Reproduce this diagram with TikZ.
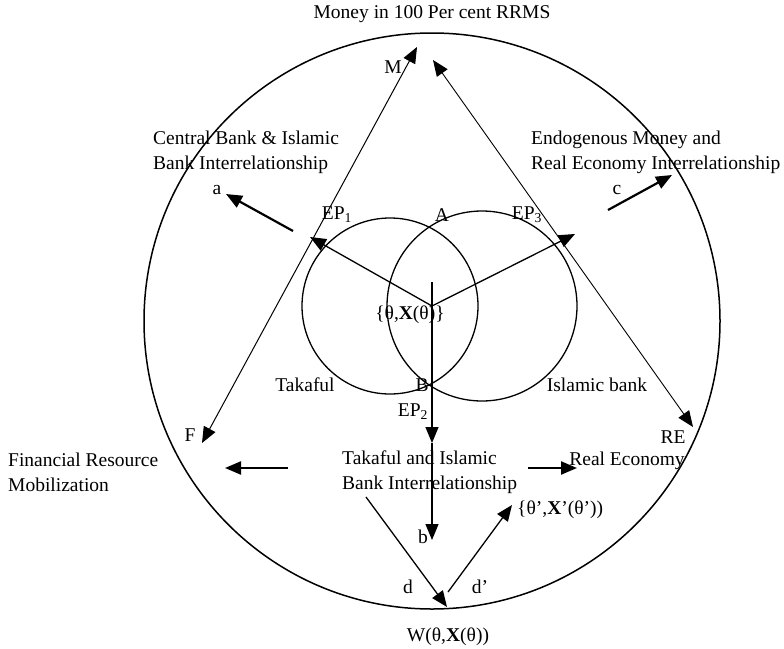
\documentclass[tikz,border=0pt]{standalone}
\usepackage{fontspec}
\setmainfont{Liberation Serif}
\usepackage{tikz}
\usetikzlibrary{arrows.meta}

\tikzset{
  lbl/.style={inner sep=0pt, font=\fontsize{19.5}{25}\selectfont},
  tip/.style={-{Triangle[length=16pt,width=13pt]}, line width=1.3pt},
  bitip/.style={{Triangle[length=16pt,width=13pt]}-{Triangle[length=16pt,width=13pt]}, line width=1pt},
  flow/.style={-{Triangle[length=16pt,width=13pt]}, line width=2.2pt}
}

\begin{document}
\begin{tikzpicture}[x=1pt, y=-1pt]
        \useasboundingbox (0,0) rectangle (784,648);
        \draw[line width=1.5pt] (432,321) circle (288);
        \draw[line width=1.3pt] (390,306) circle (88);
        \draw[line width=1.3pt] (482,306) circle (95);

        \coordinate (O) at (432,306);
        \coordinate (ep1) at (310,237);
        \coordinate (ep3) at (575,234);
        \coordinate (top) at (432,282);
        \coordinate (ep2) at (432,443);
        \coordinate (bb) at (432,540);
        \coordinate (m) at (417,47);
        \coordinate (f) at (202,443);
        \coordinate (m2) at (433,60);
        \coordinate (re) at (693,427);
        \coordinate (a0) at (293,231);
        \coordinate (a1) at (226,194);
        \coordinate (c0) at (608,210);
        \coordinate (c1) at (672,175);
        \coordinate (fr0) at (288,468);
        \coordinate (fr1) at (225,468);
        \coordinate (r0) at (528,468);
        \coordinate (r1) at (577,468);
        \coordinate (d0) at (366,497);
        \coordinate (w) at (447,607);
        \coordinate (d1) at (448,592);
        \coordinate (th) at (512,505);

        \draw[tip] (O) -- (ep1);
        \draw[tip] (O) -- (ep3);
        \draw[tip] (top) -- (ep2);
        \draw[tip] (ep2) -- (bb);
        \draw[bitip] (f) -- (m);
        \draw[bitip, line width=.9pt] (re) -- (m2);
        \draw[flow] (a0) -- (a1);
        \draw[flow] (c0) -- (c1);
        \draw[flow] (fr0) -- (fr1);
        \draw[flow] (r0) -- (r1);
        \draw[tip] (d0) -- (w);
        \draw[tip] (d1) -- (th);

        \node[lbl] (title) at (432,14) {Money in 100 Per cent RRMS};
        \node[lbl] (lm) at (393,67) {M};
        \node[lbl, align=left, anchor=west] (cb) at (153,152) {Central Bank \& Islamic\\Bank Interrelationship};
        \node[lbl] (la) at (217,190) {a};
        \node[lbl] (lep1) at (337,215) {EP\textsubscript{1}};
        \node[lbl] (lA) at (442,215) {A};
        \node[lbl] (lep3) at (527,215) {EP\textsubscript{3}};
        \node[lbl, align=left, anchor=west] (em) at (531,152) {Endogenous Money and\\Real Economy Interrelationship};
        \node[lbl] (lc) at (617,190) {c};
        \node[lbl] (lth) at (410,315) {\{θ,\textbf{X}(θ)\}};
        \node[lbl] (tk) at (305,385) {Takaful};
        \node[lbl] (lB) at (422,385) {B};
        \node[lbl] (ib) at (597,385) {Islamic bank};
        \node[lbl] (lep2) at (413,412) {EP\textsubscript{2}};
        \node[lbl] (lF) at (190,435) {F};
        \node[lbl] (lRE) at (673,437) {RE};
        \node[lbl, align=left, anchor=west] (frm) at (8,472) {Financial Resource\\Mobilization};
        \node[lbl, align=left, anchor=west] (tib) at (342,472) {Takaful and Islamic\\Bank Interrelationship};
        \node[lbl] (lre) at (627,461) {Real Economy};
        \node[lbl, anchor=west] (lth2) at (517,510) {\{θ’,\textbf{X}’(θ’))};
        \node[lbl] (lb) at (423,537) {b};
        \node[lbl] (ld) at (408,587) {d};
        \node[lbl] (ld2) at (480,587) {d’};
        \node[lbl] (lw) at (448,637) {W(θ,\textbf{X}(θ))};
      \end{tikzpicture}
\end{document}
